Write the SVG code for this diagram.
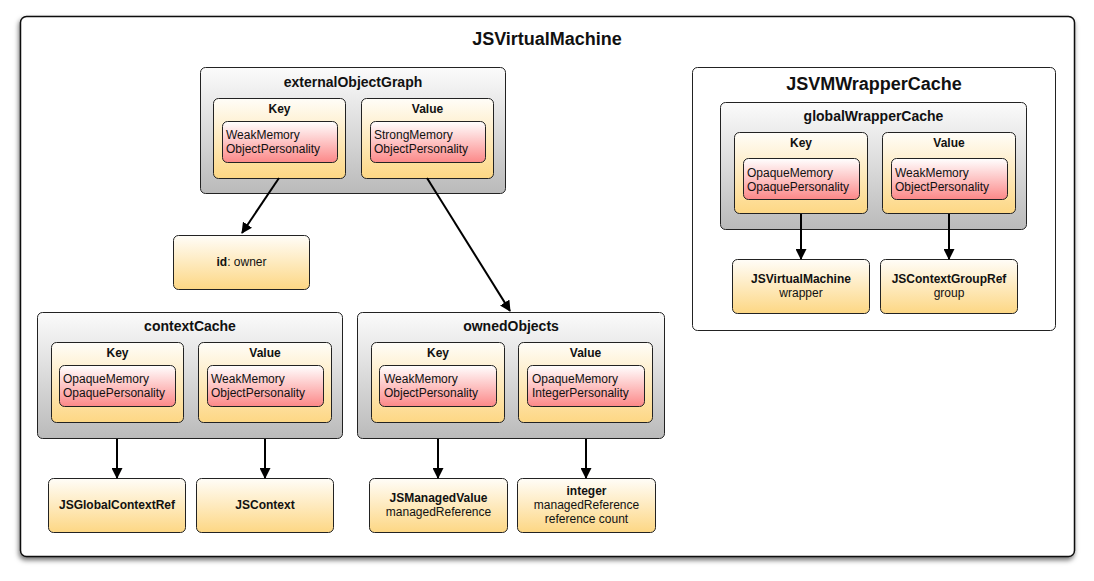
<svg xmlns="http://www.w3.org/2000/svg" width="1094" height="581" viewBox="0 0 1094 581">
<defs>
<linearGradient id="gGray" x1="0" y1="0" x2="0" y2="1"><stop offset="0" stop-color="#fbfbfb"/><stop offset="1" stop-color="#bababa"/></linearGradient>
<linearGradient id="gYel" x1="0" y1="0" x2="0" y2="1"><stop offset="0" stop-color="#fffdf8"/><stop offset="1" stop-color="#fdd784"/></linearGradient>
<linearGradient id="gRed" x1="0" y1="0" x2="0" y2="1"><stop offset="0" stop-color="#ffffff"/><stop offset="1" stop-color="#fc8888"/></linearGradient>
<filter id="shadow" x="-5%" y="-5%" width="110%" height="115%"><feDropShadow dx="-1" dy="3" stdDeviation="2.5" flood-color="#000" flood-opacity="0.55"/></filter>
<marker id="arr" markerUnits="userSpaceOnUse" markerWidth="12" markerHeight="11" refX="10" refY="5.5" orient="auto"><path d="M0,0 L11,5.5 L0,11 z" fill="#000"/></marker>
</defs>
<style>
text{font-family:"Liberation Sans",Arial,sans-serif;fill:#111}
.t18{font-size:18px;font-weight:bold;text-anchor:middle}
.t14{font-size:14px;font-weight:bold;text-anchor:middle}
.b12{font-size:12px;font-weight:bold;text-anchor:middle}
.r12{font-size:12px;text-anchor:middle}
.m12{font-size:12px}
.gray{fill:url(#gGray);stroke:#222;stroke-width:1}
.yel{fill:url(#gYel);stroke:#222;stroke-width:1}
.red{fill:url(#gRed);stroke:#222;stroke-width:1}
.frame{fill:#fff;stroke:#111;stroke-width:1.5}
.conn line{stroke:#000;stroke-width:2;marker-end:url(#arr)}
</style>

<g id="JSVirtualMachine">
<rect class="frame" x="20.5" y="16.5" width="1054" height="540" rx="6" filter="url(#shadow)"/>
<text class="t18" x="547" y="45">JSVirtualMachine</text>
</g>

<g id="externalObjectGraph">
<rect class="gray" x="200.5" y="67.5" width="305" height="126" rx="5"/>
<text class="t14" x="353" y="87">externalObjectGraph</text>
<rect class="yel" x="213.5" y="98.5" width="132" height="80" rx="5"/>
<text class="b12" x="279.5" y="113">Key</text>
<rect class="red" x="222.5" y="121.5" width="115" height="41" rx="5"/>
<text class="m12" x="226" y="139">WeakMemory</text>
<text class="m12" x="226" y="153">ObjectPersonality</text>
<rect class="yel" x="361.5" y="98.5" width="132" height="80" rx="5"/>
<text class="b12" x="427.5" y="113">Value</text>
<rect class="red" x="370.5" y="121.5" width="115" height="41" rx="5"/>
<text class="m12" x="374" y="139">StrongMemory</text>
<text class="m12" x="374" y="153">ObjectPersonality</text>
</g>

<g id="idOwner">
<rect class="yel" x="173.5" y="235.5" width="136" height="54" rx="5"/>
<text class="r12" x="241.5" y="266"><tspan font-weight="bold">id</tspan>: owner</text>
</g>

<g id="contextCache">
<rect class="gray" x="37.5" y="312.5" width="305" height="126" rx="5"/>
<text class="t14" x="190" y="331">contextCache</text>
<rect class="yel" x="51.5" y="342.5" width="132" height="80" rx="5"/>
<text class="b12" x="117.5" y="357">Key</text>
<rect class="red" x="59.5" y="365.5" width="116" height="41" rx="5"/>
<text class="m12" x="63" y="383">OpaqueMemory</text>
<text class="m12" x="63" y="397">OpaquePersonality</text>
<rect class="yel" x="198.5" y="342.5" width="133" height="80" rx="5"/>
<text class="b12" x="265" y="357">Value</text>
<rect class="red" x="207.5" y="365.5" width="116" height="41" rx="5"/>
<text class="m12" x="211" y="383">WeakMemory</text>
<text class="m12" x="211" y="397">ObjectPersonality</text>
</g>

<g id="ownedObjects">
<rect class="gray" x="357.5" y="312.5" width="307" height="126" rx="5"/>
<text class="t14" x="511" y="331">ownedObjects</text>
<rect class="yel" x="371.5" y="342.5" width="133" height="80" rx="5"/>
<text class="b12" x="438" y="357">Key</text>
<rect class="red" x="379.5" y="365.5" width="117" height="41" rx="5"/>
<text class="m12" x="384" y="383">WeakMemory</text>
<text class="m12" x="384" y="397">ObjectPersonality</text>
<rect class="yel" x="518.5" y="342.5" width="134" height="80" rx="5"/>
<text class="b12" x="585.5" y="357">Value</text>
<rect class="red" x="527.5" y="365.5" width="117" height="41" rx="5"/>
<text class="m12" x="532" y="383">OpaqueMemory</text>
<text class="m12" x="532" y="397">IntegerPersonality</text>
</g>

<g id="JSGlobalContextRef">
<rect class="yel" x="48.5" y="478.5" width="137" height="54" rx="5"/>
<text class="b12" x="117" y="509">JSGlobalContextRef</text>
</g>
<g id="JSContext">
<rect class="yel" x="196.5" y="478.5" width="137" height="54" rx="5"/>
<text class="b12" x="265" y="509">JSContext</text>
</g>
<g id="JSManagedValue">
<rect class="yel" x="369.5" y="478.5" width="138" height="54" rx="5"/>
<text class="b12" x="438.5" y="502">JSManagedValue</text>
<text class="r12" x="438.5" y="516">managedReference</text>
</g>
<g id="integer">
<rect class="yel" x="517.5" y="478.5" width="138" height="54" rx="5"/>
<text class="b12" x="586.5" y="495">integer</text>
<text class="r12" x="586.5" y="509">managedReference</text>
<text class="r12" x="586.5" y="523">reference count</text>
</g>

<g id="JSVMWrapperCache">
<rect fill="#fff" stroke="#222" stroke-width="1" x="692.5" y="67.5" width="363" height="263" rx="5"/>
<text class="t18" x="874" y="90">JSVMWrapperCache</text>
</g>

<g id="globalWrapperCache">
<rect class="gray" x="720.5" y="102.5" width="306" height="127" rx="5"/>
<text class="t14" x="873.5" y="121">globalWrapperCache</text>
<rect class="yel" x="734.5" y="132.5" width="133" height="81" rx="5"/>
<text class="b12" x="801" y="147">Key</text>
<rect class="red" x="743.5" y="158.5" width="116" height="41" rx="5"/>
<text class="m12" x="747" y="177">OpaqueMemory</text>
<text class="m12" x="747" y="191">OpaquePersonality</text>
<rect class="yel" x="882.5" y="132.5" width="133" height="81" rx="5"/>
<text class="b12" x="949" y="147">Value</text>
<rect class="red" x="891.5" y="158.5" width="116" height="41" rx="5"/>
<text class="m12" x="895" y="177">WeakMemory</text>
<text class="m12" x="895" y="191">ObjectPersonality</text>
</g>

<g id="JSVirtualMachineWrapper">
<rect class="yel" x="732.5" y="259.5" width="137" height="54" rx="5"/>
<text class="b12" x="801" y="283">JSVirtualMachine</text>
<text class="r12" x="801" y="297">wrapper</text>
</g>
<g id="JSContextGroupRef">
<rect class="yel" x="880.5" y="259.5" width="137" height="54" rx="5"/>
<text class="b12" x="949" y="283">JSContextGroupRef</text>
<text class="r12" x="949" y="297">group</text>
</g>

<g id="connectors" class="conn">
<line x1="279" y1="178" x2="242" y2="233"/>
<line x1="427" y1="178" x2="510" y2="311"/>
<line x1="117" y1="439" x2="117" y2="478"/>
<line x1="265" y1="439" x2="265" y2="478"/>
<line x1="438" y1="439" x2="438" y2="478"/>
<line x1="586" y1="439" x2="586" y2="478"/>
<line x1="801" y1="214" x2="801" y2="259"/>
<line x1="949" y1="214" x2="949" y2="259"/>
</g>
</svg>
